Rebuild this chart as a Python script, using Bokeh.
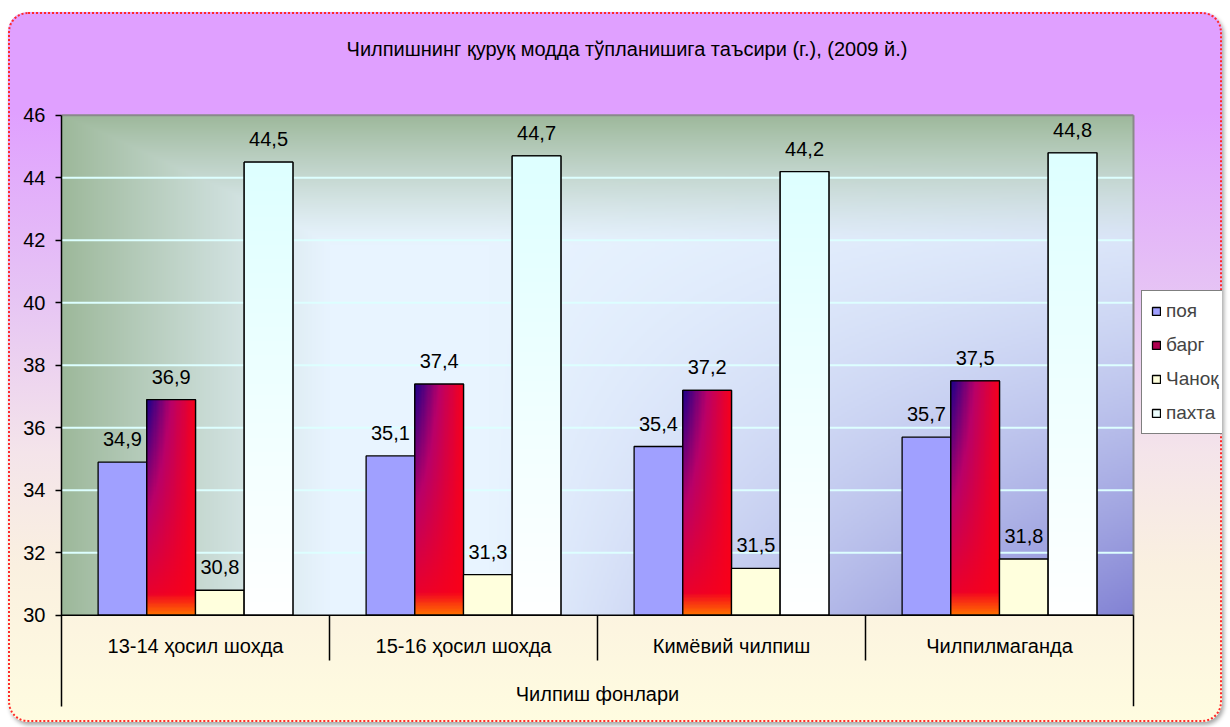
import numpy as np
from bokeh.plotting import figure
from bokeh.models import Range1d, FixedTicker, Legend, LegendItem
from bokeh.core.properties import value
from bokeh.embed import file_html
from bokeh.resources import INLINE

# ---------------- data ----------------
title_text = "Чилпишнинг қуруқ модда тўпланишига таъсири (г.), (2009 й.)"
axis_title = "Чилпиш фонлари"
categories = ["13-14 ҳосил шохда", "15-16 ҳосил шохда", "Кимёвий чилпиш", "Чилпилмаганда"]
series_names = ["поя", "барг", "Чаноқ", "пахта"]
poya = [34.9, 35.1, 35.4, 35.7]
barg = [36.9, 37.4, 37.2, 37.5]
chanoq = [30.8, 31.3, 31.5, 31.8]
pakhta = [44.5, 44.7, 44.2, 44.8]
y_ticks = [30, 32, 34, 36, 38, 40, 42, 44, 46]

FONT_NAME = "Liberation Sans"
FONT = value(FONT_NAME)
FS = "20px"
Y0 = y_ticks[0]
Y1 = y_ticks[-1]
NG = len(categories)
BW = 0.1817
Y_START = 27.08
Y_TOP = 49.29
X_END = NG + 89 / 268


def rgba(rgb):
    h, w, _ = rgb.shape
    out = np.empty((h, w, 4), dtype=np.uint8)
    out[..., :3] = np.clip(rgb, 0, 255).astype(np.uint8)
    out[..., 3] = 255
    return out.view(dtype=np.uint32).reshape((h, w))


# plot-area background gradient
W, H = 536, 250
X = ((np.arange(W) + 0.5) / W)[None, :, None]
Y = ((np.arange(H) + 0.5) / H)[:, None, None]
base = np.array([232, 244, 255], float)
purple = np.array([130, 130, 212], float)
green = np.array([157, 184, 154], float)
pf = np.clip((X - 0.4) / 0.6, 0, 1) * (1 - Y) ** 1.5
col = base + (purple - base) * pf
gl = np.clip(1 - X / 0.25, 0, 1) ** 1.1
gt = np.clip((Y - 0.74) / 0.26, 0, 1) ** 1.2
g = np.maximum(gl, gt)
col = col + (green - col) * g
bg_img = rgba(col)

# барг gradient
BWp, BHp = 40, 160
u = ((np.arange(BWp) + 0.5) / BWp)[None, :, None]
t = (1 - (np.arange(BHp) + 0.5) / BHp)[:, None, None]  # 0 top, 1 bottom
s = (1 - u) * (1 - t) ** 0.9
red = np.array([250, 0, 25], float)
mag = np.array([185, 0, 105], float)
navy = np.array([25, 0, 140], float)
c1 = red + (mag - red) * np.clip(s / 0.5, 0, 1)
c2 = mag + (navy - mag) * np.clip((s - 0.5) / 0.5, 0, 1)
bc = np.where(s < 0.5, c1, c2)
f = np.clip((t - 0.9) / 0.1, 0, 1)
bc = bc + (np.array([255, 115, 0], float) - bc) * f
barg_img = rgba(bc)

# пахта gradient
t2 = (1 - (np.arange(BHp) + 0.5) / BHp)[:, None, None] * np.ones((1, BWp, 1))
top = np.array([222, 255, 255], float)
pc = top + (np.array([255, 255, 255], float) - top) * t2
pakhta_img = rgba(pc)

p = figure(width=1214, height=710, x_range=Range1d(0, X_END), y_range=Range1d(Y_START, Y_TOP),
           x_axis_location=None, toolbar_location=None, output_backend="svg",
           min_border_left=53, min_border_right=0, min_border_top=0, min_border_bottom=16,
           border_fill_alpha=0, background_fill_alpha=0, outline_line_color=None)
p.margin = (12, 8, 5, 8)
p.styles = {
    "background": "linear-gradient(to bottom, #E0A0FF 0%, #E0A0FF 14%, #E6C4F4 40%, #F4E4EA 62%, #FAF0E0 78%, #FFFCE0 100%)",
    "border-radius": "20px",
    "outline": "2px dotted #ff2a2a",
    "outline-offset": "-2px",
    "box-shadow": "2px 3px 4px rgba(0,0,0,0.35)",
}

p.image_rgba(image=[bg_img], x=0, y=Y0, dw=NG, dh=Y1 - Y0, level="image")

p.grid.visible = False
gy = y_ticks[1:-1]
p.segment(x0=[0] * len(gy), y0=gy, x1=[NG] * len(gy), y1=gy, line_color="#DDFFFF", line_width=2)
p.segment(x0=[0], y0=[Y1], x1=[NG], y1=[Y1], line_color="#8a8a8a", line_width=2)
p.segment(x0=[NG], y0=[Y0], x1=[NG], y1=[Y1], line_color="#8a8a8a", line_width=2)

ax = p.yaxis[0]
ax.ticker = FixedTicker(ticks=y_ticks)
ax.bounds = (Y_START, Y1)
ax.axis_line_color = "black"
ax.axis_line_width = 1.5
ax.major_tick_out = 6
ax.major_tick_in = 0
ax.major_tick_line_color = "black"
ax.major_tick_line_width = 1.5
ax.minor_tick_line_color = None
ax.major_label_text_font = FONT_NAME
ax.major_label_text_font_size = "20px"
ax.major_label_text_color = "black"
ax.major_label_standoff = 10

series = [poya, barg, chanoq, pakhta]
fills = ["#A0A0FF", "#B00050", "#FFFFDD", "#EEFFFF"]
imgs = [None, barg_img, None, pakhta_img]
legend_items = []
for j, (vals, name, fc, im) in enumerate(zip(series, series_names, fills, imgs)):
    xs = [i + 0.5 + (j - 1.5) * BW for i in range(NG)]
    r = p.vbar(x=xs, top=vals, bottom=Y0, width=BW, fill_color=fc,
               line_color="black", line_width=1.3)
    if im is not None:
        p.image_rgba(image=[im] * NG, x=[x - BW / 2 for x in xs], y=[Y0] * NG,
                     dw=[BW] * NG, dh=[v - Y0 for v in vals], level="glyph")
        p.vbar(x=xs, top=vals, bottom=Y0, width=BW, fill_alpha=0,
               line_color="black", line_width=1.3)
    p.text(x=xs, y=vals, text=[str(v).replace(".", ",") for v in vals],
           text_align="center", text_baseline="middle", y_offset=-23,
           text_font=FONT, text_font_size=FS, text_color="black")
    legend_items.append(LegendItem(label=name, renderers=[r]))

# category axis drawn below the baseline
p.segment(x0=[0], y0=[Y0], x1=[NG], y1=[Y0], line_color="black", line_width=1.5)
p.segment(x0=list(range(1, NG)), y0=[Y0] * (NG - 1), x1=list(range(1, NG)),
          y1=[28.55] * (NG - 1), line_color="black", line_width=1.5)
p.segment(x0=[NG], y0=[Y0], x1=[NG], y1=[Y_START], line_color="black", line_width=1.5)
p.text(x=[i + 0.5 for i in range(NG)], y=[29.03] * NG, text=categories,
       text_align="center", text_baseline="middle",
       text_font=FONT, text_font_size=FS, text_color="black")
p.text(x=[NG / 2], y=[27.49], text=[axis_title], text_align="center", text_baseline="middle",
       text_font=FONT, text_font_size=FS, text_color="black")

# chart title
p.text(x=[2.11], y=[48.13], text=[title_text], text_align="center", text_baseline="middle",
       text_font=FONT, text_font_size=FS, text_color="black")

legend = Legend(items=legend_items, location=(1080, 272))
legend.border_line_color = "black"
legend.border_line_width = 1
legend.background_fill_color = "white"
legend.background_fill_alpha = 1
legend.glyph_width = 10
legend.glyph_height = 10
legend.label_text_font = FONT_NAME
legend.label_text_font_size = "19px"
legend.label_height = 20
legend.label_standoff = 5
legend.padding = 9
legend.spacing = 12
legend.margin = 0
p.add_layout(legend)

open("out.html", "w").write(file_html(p, INLINE))
